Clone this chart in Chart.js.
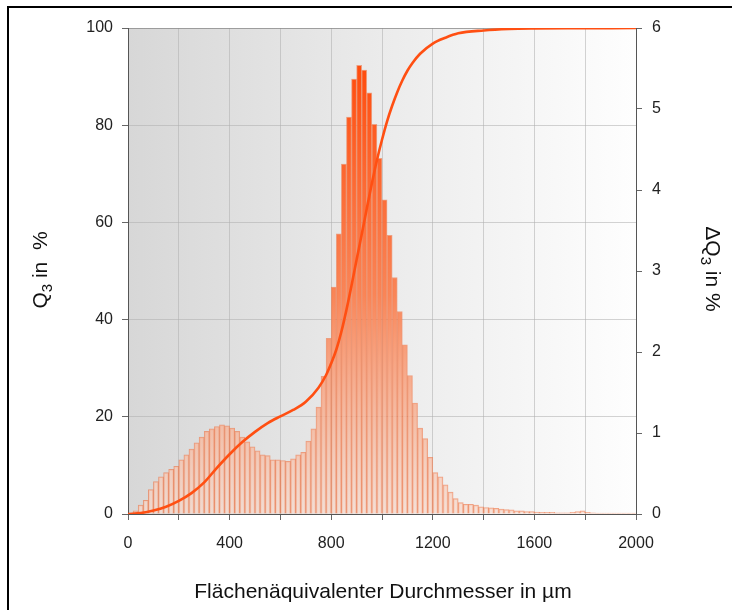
<!DOCTYPE html>
<html>
<head>
<meta charset="utf-8">
<script src="https://cdn.jsdelivr.net/npm/chart.js@4.4.1/dist/chart.umd.min.js"></script>
<style>
  html, body { margin: 0; padding: 0; background: #ffffff; }
  #wrap { position: relative; width: 732px; height: 610px; overflow: hidden; }
  #frame { position: absolute; left: 7px; top: 6px; width: 900px; height: 800px; border: 2px solid #000; box-sizing: border-box; }
  canvas { position: absolute; left: 0; top: 0; }
</style>
</head>
<body>
<div id="wrap">
  <div id="frame"></div>
  <canvas id="c" width="732" height="610"></canvas>
</div>
<script>
// ---- data ----
const binWidth = 20; // µm
const binStarts = [];
for (let i = 0; i < 100; i++) binStarts.push(i * binWidth);

const deltaQ3 = [
  0.01, 0.04, 0.11, 0.17, 0.30, 0.40, 0.46, 0.51, 0.55, 0.59,
  0.67, 0.73, 0.80, 0.88, 0.95, 1.02, 1.05, 1.08, 1.10, 1.09,
  1.06, 1.02, 0.95, 0.89, 0.83, 0.78, 0.73, 0.72, 0.67, 0.67,
  0.66, 0.65, 0.68, 0.73, 0.76, 0.90, 1.05, 1.32, 1.70, 2.17,
  2.80, 3.46, 4.32, 4.90, 5.37, 5.54, 5.48, 5.20, 4.81, 4.39,
  3.88, 3.44, 2.92, 2.50, 2.09, 1.71, 1.37, 1.06, 0.93, 0.70,
  0.51, 0.46, 0.36, 0.27, 0.19, 0.14, 0.12, 0.12, 0.11, 0.09,
  0.08, 0.075, 0.07, 0.06, 0.055, 0.05, 0.04, 0.04, 0.03, 0.03,
  0.025, 0.02, 0.02, 0.02, 0.015, 0.015, 0.015, 0.02, 0.03, 0.04,
  0.02, 0.015, 0.01, 0.01, 0.01, 0.01, 0.01, 0.01, 0.01, 0.01
];

const curveX = [0, 50, 100, 150, 200, 250, 300, 350, 400, 450, 500, 550, 600, 650, 700, 750, 780, 800,
  820, 840, 860, 880, 900, 920, 940, 960, 980, 1000, 1020, 1040, 1060, 1080, 1100, 1120, 1150,
  1200, 1250, 1300, 1400, 1500, 1600, 1800, 2000];
const curveQ3 = [0, 0.2, 0.7, 1.5, 2.7, 4.3, 6.5, 9.5, 12.3, 14.8, 16.9, 18.7, 20.1, 21.4, 23.1, 26.0, 28.6, 31.0,
  33.8, 37.5, 42.0, 47.0, 52.3, 57.5, 62.8, 68.0, 72.8, 77.0, 80.8, 84.0, 86.8, 89.2, 91.2, 92.8, 94.7,
  96.8, 98.0, 98.9, 99.5, 99.8, 99.9, 99.95, 100];

const xTicks = [0, 400, 800, 1200, 1600, 2000];
const leftTicks = [0, 20, 40, 60, 80, 100];
const rightTicks = [0, 1, 2, 3, 4, 5, 6];

// ---- chart ----
const FONT = '"Liberation Sans", Arial, Helvetica, sans-serif';
Chart.defaults.font.family = FONT;

const barData = binStarts.map((s, i) => ({ x: s + binWidth / 2, y: deltaQ3[i] }));
const lineData = curveX.map((x, i) => ({ x: x, y: curveQ3[i] }));

function barFill(ctx) {
  const chart = ctx.chart;
  const a = chart.chartArea;
  if (!a) return 'rgba(245,170,140,0.7)';
  const g = chart.ctx.createLinearGradient(0, a.bottom, 0, a.top);
  g.addColorStop(0.0, 'rgba(248,218,205,0.7)');
  g.addColorStop(0.18, 'rgba(246,182,155,0.82)');
  g.addColorStop(0.45, 'rgba(250,128,80,0.95)');
  g.addColorStop(0.9, 'rgba(255,78,16,1)');
  g.addColorStop(1.0, 'rgba(255,72,8,1)');
  return g;
}

const bgPlugin = {
  id: 'bg',
  beforeDraw(chart) {
    const a = chart.chartArea;
    const ctx = chart.ctx;
    const g = ctx.createLinearGradient(a.left, 0, a.right, 0);
    g.addColorStop(0, '#d7d7d7');
    g.addColorStop(0.5, '#ebebeb');
    g.addColorStop(1, '#fefefe');
    ctx.save();
    ctx.fillStyle = g;
    ctx.fillRect(a.left, a.top, a.right - a.left, a.bottom - a.top);
    ctx.restore();
  }
};

function drawSubTitle(ctx, parts, cx, cy, angle, subShift) {
  ctx.save();
  ctx.translate(cx, cy);
  ctx.rotate(angle);
  ctx.textBaseline = 'alphabetic';
  ctx.textAlign = 'left';
  let w = 0;
  parts.forEach(p => { ctx.font = p.font; w += ctx.measureText(p.t).width; });
  let x = -w / 2;
  parts.forEach(p => {
    ctx.font = p.font;
    ctx.fillText(p.t, x, 7 + (p.sub ? subShift : 0));
    x += ctx.measureText(p.t).width;
  });
  ctx.restore();
}

const titlePlugin = {
  id: 'titles',
  afterDraw(chart) {
    const ctx = chart.ctx;
    ctx.save();
    ctx.fillStyle = '#111';
    const big = '21px ' + FONT;
    const small = '15px ' + FONT;
    drawSubTitle(ctx, [{ t: 'Q', font: big }, { t: '3', font: small, sub: true }, { t: ' in  %', font: big }],
      40, 270, -Math.PI / 2, 5);
    drawSubTitle(ctx, [{ t: '\u0394Q', font: big }, { t: '3', font: small, sub: true }, { t: ' in %', font: big }],
      713, 269, Math.PI / 2, 5);
    ctx.font = '21px ' + FONT;
    ctx.textAlign = 'center';
    ctx.textBaseline = 'middle';
    ctx.fillText('Fl\u00e4chen\u00e4quivalenter Durchmesser in \u00b5m', 383, 592);
    ctx.restore();
  }
};

new Chart(document.getElementById('c'), {
  type: 'bar',
  data: {
    datasets: [
      {
        type: 'line',
        label: 'Q3',
        data: lineData,
        yAxisID: 'y',
        borderColor: '#ff4f12',
        borderWidth: 2.6,
        pointRadius: 0,
        cubicInterpolationMode: 'monotone',
        fill: false,
        order: 0
      },
      {
        type: 'bar',
        label: 'dQ3',
        data: barData,
        yAxisID: 'y2',
        backgroundColor: barFill,
        borderColor: 'rgba(238,110,60,0.6)',
        borderWidth: 1,
        barPercentage: 1.0,
        categoryPercentage: 1.0,
        order: 1
      }
    ]
  },
  options: {
    responsive: false,
    animation: false,
    devicePixelRatio: 1,
    layout: { padding: { top: 28, left: 0, right: 0, bottom: 0 } },
    plugins: { legend: { display: false }, tooltip: { enabled: false } },
    scales: {
      x: {
        type: 'linear',
        min: 0, max: 2000,
        offset: false,
        afterFit(s) { s.height = 96; },
        afterBuildTicks(s) { s.ticks = []; for (let v = 0; v <= 2000; v += 200) s.ticks.push({ value: v }); },
        ticks: {
          autoSkip: false, maxRotation: 0, padding: 14,
          color: '#222', font: { size: 16, family: FONT },
          callback: (v) => xTicks.includes(v) ? String(v) : ''
        },
        grid: { offset: false, color: 'rgba(175,175,175,0.55)', tickColor: '#666', tickLength: 6, lineWidth: 1 },
        border: { color: '#555', width: 1 }
      },
      y: {
        position: 'left',
        min: 0, max: 100,
        afterFit(s) { s.width = 128; },
        afterBuildTicks(s) { s.ticks = leftTicks.map(v => ({ value: v })); },
        ticks: { padding: 9, color: '#222', font: { size: 16, family: FONT } },
        grid: { color: (c) => (c.tick && c.tick.value === 100) ? 'rgba(140,140,140,0.8)' : 'rgba(175,175,175,0.55)', tickColor: '#666', tickLength: 6 },
        border: { color: '#555', width: 1 }
      },
      y2: {
        position: 'right',
        min: 0, max: 6,
        afterFit(s) { s.width = 96; },
        afterBuildTicks(s) { s.ticks = rightTicks.map(v => ({ value: v })); },
        ticks: { padding: 10, color: '#222', font: { size: 16, family: FONT } },
        grid: { drawOnChartArea: false, tickColor: '#666', tickLength: 6 },
        border: { color: '#555', width: 1 }
      }
    }
  },
  plugins: [bgPlugin, titlePlugin]
});
</script>
</body>
</html>
